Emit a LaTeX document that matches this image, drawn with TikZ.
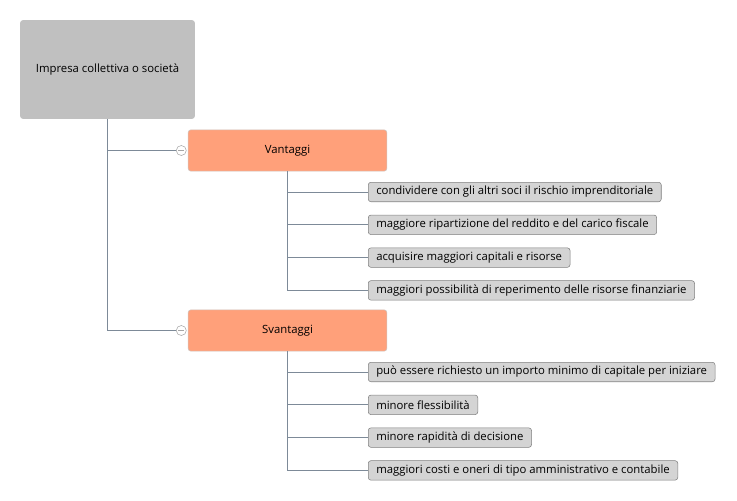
\documentclass[tikz,border=0pt]{standalone}
\usepackage{fontspec}
\setmainfont{Open Sans}
\usepackage{xcolor}
\usetikzlibrary{positioning}

\definecolor{rootgray}{HTML}{C0C0C0}
\definecolor{salmon}{HTML}{FFA07A}
\definecolor{salmonline}{HTML}{D0C4BE}
\definecolor{leafgray}{HTML}{D4D4D4}
\definecolor{leafline}{HTML}{7F7F7F}
\definecolor{linkblue}{HTML}{7D8A98}

\tikzset{
  rootbox/.style={fill=rootgray, rounded corners=2pt, minimum width=131pt, minimum height=74pt, font=\fontsize{8.5}{10}\selectfont},
  branchbox/.style={draw=salmonline, fill=salmon, rounded corners=2pt, minimum width=149pt, minimum height=31pt, font=\fontsize{8.5}{10}\selectfont},
  leafbox/.style={draw=leafline, fill=leafgray, rounded corners=2pt, inner xsep=6pt, inner ysep=0pt, minimum height=14.6pt, anchor=north west, font=\fontsize{8.5}{10}\selectfont},
  toggle/.style={circle, draw=gray!70, fill=white, minimum size=7.5pt, inner sep=0pt, path picture={\draw[gray!70] ([xshift=-2.2pt]path picture bounding box.center) -- ([xshift=2.2pt]path picture bounding box.center);}},
  link/.style={draw=linkblue, line width=0.75pt}
}

\begin{document}
\begin{tikzpicture}[x=0.75pt, y=-0.75pt]
        \useasboundingbox (0,0) rectangle (737,500);

        % Root
        \node[rootbox] (root) at (107.5,69.5) {Impresa collettiva o società};

        % Branches
        \node[branchbox] (vant) at (287.5,150.5) {Vantaggi};
        \node[branchbox] (svant) at (287.5,330.5) {Svantaggi};
        \node[toggle, left=1pt of vant] (vtog) {};
        \node[toggle, left=1pt of svant] (stog) {};

        % Vantaggi
        \node[leafbox] (v1) at (368,182) {condividere con gli altri soci il rischio imprenditoriale};
        \node[leafbox, below=9.6pt of v1.south west, anchor=north west] (v2) {maggiore ripartizione del reddito e del carico fiscale};
        \node[leafbox, below=9.6pt of v2.south west, anchor=north west] (v3) {acquisire maggiori capitali e risorse};
        \node[leafbox, below=9.6pt of v3.south west, anchor=north west] (v4) {maggiori possibilità di reperimento delle risorse finanziarie};

        % Svantaggi
        \node[leafbox] (s1) at (368,362) {può essere richiesto un importo minimo di capitale per iniziare};
        \node[leafbox, below=9.6pt of s1.south west, anchor=north west] (s2) {minore flessibilità};
        \node[leafbox, below=9.6pt of s2.south west, anchor=north west] (s3) {minore rapidità di decisione};
        \node[leafbox, below=9.6pt of s3.south west, anchor=north west] (s4) {maggiori costi e oneri di tipo amministrativo e contabile};

        % Links
        \draw[link] (root.south) |- (vtog.west);
        \draw[link] (root.south) |- (stog.west);
        \foreach \leaf in {v1,v2,v3,v4} \draw[link] (vant.south) |- (\leaf.west);
        \foreach \leaf in {s1,s2,s3,s4} \draw[link] (svant.south) |- (\leaf.west);
    \end{tikzpicture}
\end{document}
